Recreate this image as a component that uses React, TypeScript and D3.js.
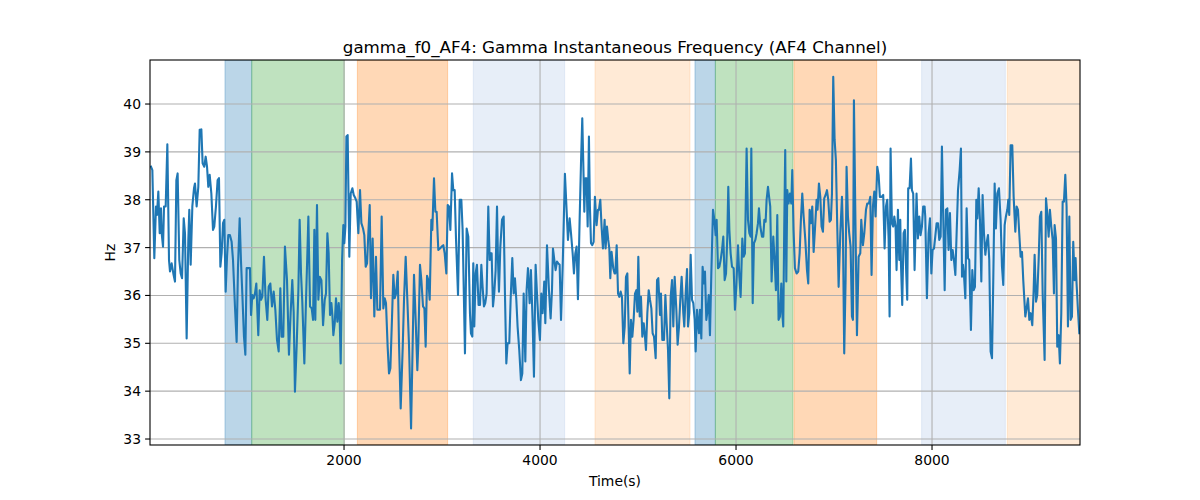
import React from "react";
import * as d3 from "d3";

const TITLE = "gamma_f0_AF4: Gamma Instantaneous Frequency (AF4 Channel)";
const X_LABEL = "Time(s)";
const Y_LABEL = "Hz";
const X_TICKS = [2000, 4000, 6000, 8000];
const Y_TICKS = [33, 34, 35, 36, 37, 38, 39, 40];
const X_DOMAIN = [20, 9510];
const Y_DOMAIN = [32.875, 40.92];

// shaded intervals: [start, end, colour, opacity]
const BAND_STARTS = [785, 1058, 2136, 3319, 4561, 5581, 5789, 6591, 7894, 8768];
const BAND_ENDS = [1058, 2003, 3057, 4251, 5530, 5789, 6581, 7435, 8748, 9520];
const BAND_COLORS = ["#1f77b4", "#2ca02c", "#ff7f0e", "#aec7e8", "#ffbb78", "#1f77b4", "#2ca02c", "#ff7f0e", "#aec7e8", "#ffbb78"];

const TIMES = [
  30, 44, 64, 81, 91, 105, 119, 132, 139, 153, 163, 180, 197, 214, 224, 241, 258, 275, 289, 302, 319, 333, 347, 364, 377, 394, 411, 421, 435, 452, 469, 479, 496, 513, 527, 544, 557, 574, 588, 602, 615, 629, 646, 663, 676, 693, 710, 724, 738, 751, 765, 778, 792, 806, 819, 836, 853, 867, 887, 904, 918, 935, 948, 962, 979, 993, 1006, 1023, 1040, 1051, 1064, 1078, 1091, 1105, 1125, 1139, 1153, 1166, 1183, 1200, 1217, 1231, 1248, 1265, 1282, 1299, 1316, 1333, 1350, 1363, 1380, 1397, 1418, 1438, 1455, 1472, 1486, 1499, 1517, 1534, 1547, 1561, 1574, 1595,
  1612, 1626, 1636, 1653, 1670, 1684, 1697, 1707, 1724, 1738, 1752, 1769, 1786, 1803, 1816, 1830, 1843, 1857, 1871, 1881, 1891, 1905, 1918, 1932, 1946, 1956, 1966, 1980, 1993, 2003, 2014, 2024, 2037, 2054, 2068, 2085, 2099, 2116, 2129, 2146, 2163, 2177, 2194, 2207, 2221, 2235, 2248, 2262, 2275, 2292, 2309, 2326, 2340, 2354, 2367, 2384, 2401, 2415, 2428, 2445, 2459, 2473, 2490, 2503, 2517, 2531, 2548, 2561, 2578, 2599, 2612, 2629, 2646, 2663, 2684, 2701, 2714, 2731, 2748, 2758, 2775, 2789, 2806, 2820, 2833, 2847, 2860, 2874, 2891, 2901, 2918, 2932, 2945, 2962, 2979, 2996, 3013, 3027, 3044, 3058, 3071, 3085, 3102, 3115, 3129, 3143, 3163,
  3180, 3197, 3210, 3234, 3251, 3268, 3285, 3295, 3309, 3319, 3329, 3343, 3356, 3373, 3387, 3401, 3414, 3428, 3441, 3455, 3472, 3486, 3496, 3506, 3520, 3533, 3547, 3561, 3571, 3581, 3595, 3612, 3629, 3642, 3656, 3669, 3686, 3700, 3717, 3731, 3744, 3758, 3771, 3788, 3805, 3819, 3833, 3850, 3863, 3877, 3894, 3907, 3924, 3938, 3955, 3969, 3982, 3999, 4013, 4026, 4043, 4054, 4071, 4091, 4108, 4122, 4132, 4146, 4159, 4173, 4186, 4200, 4214, 4231, 4241, 4254, 4268, 4285, 4302, 4316, 4333, 4346, 4360, 4373, 4387, 4404, 4418, 4431, 4441, 4452, 4462, 4475, 4486, 4499, 4509, 4520, 4533, 4547, 4560, 4577, 4591, 4601, 4615, 4628, 4642, 4659, 4669, 4683, 4696, 4707, 4717, 4730, 4747, 4761,
  4768, 4782, 4796, 4809, 4823, 4836, 4850, 4864, 4877, 4891, 4904, 4915, 4928, 4942, 4955, 4969, 4983, 4993, 5003, 5017, 5030, 5044, 5058, 5068, 5081, 5095, 5109, 5122, 5136, 5149, 5163, 5180, 5194, 5207, 5224, 5234, 5248, 5265, 5279, 5292, 5306, 5319, 5333, 5347, 5360, 5374, 5391, 5404, 5418, 5432, 5445, 5462, 5472, 5486, 5500, 5510, 5523, 5537, 5551, 5564, 5578, 5588, 5602, 5612, 5622, 5632, 5646, 5659, 5673, 5683, 5697, 5710, 5721, 5734, 5748, 5765, 5779, 5792, 5802, 5816, 5830, 5843, 5857, 5870, 5884, 5898, 5911, 5921, 5932, 5945, 5959, 5976, 5989, 6003, 6020, 6034, 6047, 6064, 6078, 6091, 6102, 6108, 6122, 6136, 6149, 6156, 6170, 6183, 6197, 6210, 6224, 6234, 6248, 6265, 6278, 6289, 6302, 6312, 6326, 6343,
  6349, 6363, 6380, 6394, 6407, 6421, 6434, 6448, 6462, 6472, 6482, 6492, 6502, 6513, 6523, 6536, 6550, 6564, 6574, 6587, 6601, 6618, 6635, 6649, 6662, 6676, 6690, 6707, 6724, 6737, 6751, 6764, 6778, 6792, 6805, 6822, 6832, 6846, 6860, 6873, 6887, 6900, 6914, 6928, 6941, 6955, 6968, 6979, 6992, 7006, 7019, 7033, 7047, 7064, 7081, 7091, 7104, 7118, 7128, 7142, 7155, 7169, 7183, 7193, 7203, 7220, 7234, 7251, 7268, 7278, 7295, 7309, 7326, 7339, 7356, 7370, 7383, 7397, 7411, 7424, 7441, 7455, 7468, 7485, 7502, 7516, 7530, 7543, 7557, 7567, 7577, 7591, 7604, 7615, 7628, 7638, 7652, 7666, 7676, 7683, 7696, 7710, 7723, 7737, 7747, 7757, 7771, 7785, 7795, 7808, 7822, 7842, 7856, 7870, 7883, 7897, 7910, 7924,
  7931, 7948, 7965, 7979, 7993, 8006, 8020, 8033, 8047, 8061, 8074, 8088, 8101, 8115, 8129, 8142, 8156, 8169, 8183, 8197, 8210, 8224, 8238, 8251, 8265, 8282, 8295, 8306, 8316, 8326, 8340, 8353, 8367, 8380, 8397, 8411, 8425, 8438, 8452, 8462, 8476, 8489, 8503, 8516, 8530, 8544, 8557, 8571, 8584, 8598, 8612, 8625, 8639, 8652, 8666, 8683, 8700, 8714, 8727, 8741, 8754, 8768, 8778, 8788, 8802, 8819, 8833, 8850, 8863, 8877, 8890, 8904, 8918, 8931, 8952, 8965, 8979, 8993, 9006, 9023, 9037, 9047, 9061, 9074, 9088, 9101, 9115, 9129, 9149, 9163, 9176, 9190, 9203, 9217, 9231, 9244, 9251, 9265, 9278, 9292, 9305, 9319, 9333, 9346, 9360, 9373, 9387, 9401, 9414, 9428, 9441, 9455, 9465, 9475, 9489, 9503,
];

const VALUES = [
  38.69, 38.62, 36.78, 37.86, 37.68, 38.17, 37.30, 37.82, 37.30, 37.02, 37.86, 37.86, 39.16, 36.74, 36.50, 36.67, 36.46, 36.29, 38.41, 38.55, 36.74, 36.46, 36.36, 37.61, 37.30, 35.10, 37.16, 37.79, 36.64, 37.86, 38.24, 38.34, 37.86, 38.27, 39.46, 39.47, 38.76, 38.69, 38.90, 38.69, 38.27, 38.52, 38.13, 37.37, 37.44, 37.86, 38.41, 38.45, 36.60, 36.88, 37.51, 37.58, 36.08, 36.81, 37.26, 37.26, 37.12, 36.74, 35.77, 35.03, 36.60, 37.61, 36.74, 36.04, 35.14, 34.76, 36.57, 36.57, 36.57, 35.59, 36.01, 35.94, 36.04, 36.25, 35.17, 36.11, 35.91, 35.97, 36.81, 35.91, 35.49, 36.18, 36.25, 35.77, 36.08, 35.70, 35.07, 34.83, 36.15, 35.14, 35.14, 37.02, 36.32, 34.76, 35.63, 36.32, 35.66, 33.99, 34.97, 36.11, 37.58, 36.46, 35.87, 34.58,
  35.91, 36.88, 37.65, 35.77, 35.73, 35.49, 37.37, 35.49, 37.89, 35.91, 36.39, 36.32, 35.38, 35.91, 36.04, 37.30, 36.88, 35.59, 35.84, 35.59, 35.17, 35.42, 35.94, 35.45, 35.84, 35.49, 34.58, 36.74, 37.47, 37.09, 37.44, 39.32, 39.35, 36.81, 38.13, 38.24, 38.10, 38.03, 37.96, 37.30, 38.20, 37.51, 37.40, 37.26, 36.60, 36.67, 37.30, 37.89, 35.94, 37.19, 35.56, 36.81, 35.70, 35.70, 35.70, 37.65, 35.73, 35.94, 35.84, 34.93, 34.37, 34.48, 35.56, 36.43, 35.94, 36.04, 36.50, 35.00, 33.64, 34.93, 35.91, 36.81, 35.91, 34.97, 33.22, 35.07, 36.43, 35.49, 34.44, 35.00, 36.64, 36.32, 35.77, 35.73, 34.93, 36.41, 36.32, 35.91, 37.58, 37.37, 38.45, 37.75, 37.75, 36.95, 36.98, 37.02, 37.05, 36.88, 36.46, 37.89, 37.86, 37.37, 38.55, 38.20, 38.20, 37.16, 36.01,
  38.00, 38.00, 37.37, 34.79, 37.40, 37.23, 35.63, 35.21, 35.14, 36.67, 35.35, 36.46, 36.64, 35.80, 35.80, 36.64, 36.18, 35.77, 35.84, 36.04, 37.86, 36.74, 36.88, 36.88, 35.77, 36.04, 36.53, 37.86, 36.74, 36.08, 37.02, 37.58, 37.65, 36.04, 34.58, 35.00, 35.00, 35.91, 36.78, 36.04, 36.36, 35.91, 35.35, 34.86, 34.23, 34.37, 36.04, 34.62, 36.11, 36.57, 35.84, 36.53, 35.49, 34.30, 36.64, 36.04, 35.49, 35.07, 36.04, 35.63, 36.29, 35.42, 37.05, 36.11, 35.52, 36.11, 36.98, 36.74, 36.53, 36.71, 36.67, 36.64, 35.49, 36.60, 37.44, 38.54, 37.92, 37.16, 37.61, 37.30, 36.88, 36.46, 36.88, 37.02, 35.92, 37.58, 38.76, 39.70, 38.80, 37.75, 38.45, 38.45, 37.44, 39.32, 37.86, 37.09, 37.05, 37.12, 38.06, 37.47, 37.79, 37.79, 38.00, 37.44, 36.98, 37.58, 36.98, 37.44, 37.16, 36.98, 36.36, 36.91, 36.57, 36.46,
  36.46, 37.05, 36.04, 35.97, 36.08, 35.97, 35.00, 35.35, 36.39, 36.46, 35.35, 34.37, 35.49, 35.14, 35.49, 36.04, 36.11, 35.66, 36.81, 35.56, 35.97, 35.14, 35.42, 35.21, 34.86, 35.63, 36.11, 35.91, 35.73, 35.21, 35.14, 34.69, 36.32, 36.36, 35.59, 36.04, 35.07, 35.07, 36.01, 35.42, 34.86, 33.85, 35.97, 36.32, 35.35, 36.39, 35.70, 34.97, 35.35, 35.94, 36.39, 35.63, 35.35, 36.04, 36.55, 35.35, 35.63, 36.85, 35.91, 35.84, 35.49, 34.83, 35.70, 35.42, 35.21, 35.70, 35.10, 36.60, 36.25, 36.50, 35.49, 35.70, 36.01, 35.17, 36.46, 37.79, 37.58, 37.26, 37.58, 36.57, 36.60, 36.74, 36.95, 37.23, 36.32, 36.46, 37.23, 38.27, 37.37, 36.88, 36.60, 36.57, 35.70, 36.18, 37.05, 36.39, 35.97, 37.19, 36.81, 36.88, 38.27, 39.07, 37.58, 37.30, 37.23, 39.07, 35.84, 37.09, 37.16, 37.30, 37.51, 37.82, 37.44, 37.23, 37.23, 37.58, 37.54, 38.00, 38.27, 37.96,
  37.86, 36.29, 37.23, 36.74, 36.11, 37.68, 35.49, 35.56, 36.25, 35.63, 35.35, 37.44, 39.04, 36.29, 38.20, 37.92, 38.13, 37.92, 38.62, 37.37, 36.57, 36.46, 36.50, 36.88, 37.58, 38.13, 37.65, 37.16, 36.53, 36.25, 37.79, 37.51, 37.86, 36.91, 37.37, 38.00, 37.79, 38.34, 38.06, 37.44, 37.33, 38.03, 38.10, 38.20, 38.00, 37.54, 37.58, 38.13, 40.57, 39.25, 38.83, 37.44, 36.18, 37.30, 38.06, 37.30, 34.79, 36.32, 38.69, 37.65, 37.30, 37.02, 35.56, 35.49, 40.08, 37.30, 35.17, 36.81, 36.88, 37.58, 37.05, 37.30, 37.79, 37.92, 37.92, 38.06, 36.43, 37.86, 38.17, 37.65, 38.69, 38.52, 38.06, 38.06, 38.10, 36.98, 37.86, 38.00, 37.19, 35.56, 39.07, 37.51, 37.44, 37.65, 37.44, 36.53, 37.79, 36.74, 37.58, 36.67, 35.80, 37.30, 37.37, 36.46, 35.91, 38.24, 38.24, 38.86, 38.20, 38.13, 36.53, 38.13, 37.19, 37.65, 37.26, 37.44, 37.86, 37.86,
  37.65, 35.94, 37.30, 37.61, 36.46, 36.95, 36.98, 37.23, 37.51, 37.51, 37.16, 37.23, 39.11, 37.58, 36.11, 37.79, 37.82, 36.95, 37.72, 36.74, 36.95, 36.74, 36.43, 37.30, 38.20, 38.62, 39.07, 36.39, 36.64, 36.43, 35.94, 37.82, 36.78, 36.74, 35.28, 36.53, 36.11, 36.18, 38.00, 37.61, 38.24, 37.58, 36.29, 38.10, 37.30, 36.85, 37.09, 37.26, 36.74, 34.83, 34.69, 36.32, 38.34, 37.40, 38.13, 38.24, 37.58, 36.60, 36.22, 37.47, 37.65, 37.79, 38.00, 37.68, 39.14, 39.14, 38.06, 37.33, 37.86, 37.79, 37.30, 36.81, 36.91, 36.32, 35.56, 35.73, 35.94, 35.49, 35.63, 35.38, 36.11, 36.85, 35.87, 36.01, 36.74, 37.65, 37.75, 36.04, 34.65, 38.03, 37.72, 37.23, 37.79, 37.44, 37.16, 36.04, 37.47, 37.19, 34.93, 35.17, 34.58, 35.63, 37.96, 37.96, 38.52, 37.86, 35.35, 37.65, 35.49, 35.56, 37.12, 36.32, 36.78, 36.25, 35.70, 35.21,
];

const W = 1200;
const H = 500;
const M = { left: 150, right: 1080, top: 60, bottom: 445 };
const FONT = "DejaVu Sans, sans-serif";

export default function App() {
  const x = d3.scaleLinear().domain(X_DOMAIN).range([M.left, M.right]);
  const y = d3.scaleLinear().domain(Y_DOMAIN).range([M.bottom, M.top]);
  const pts = TIMES.map((t, i) => [t, VALUES[i]] as [number, number]);
  const line = d3
    .line<[number, number]>()
    .x((d) => x(d[0]))
    .y((d) => y(d[1]));

  return (
    <svg
      width={W}
      height={H}
      style={{ position: "absolute", left: 0, top: 0, background: "#fff" }}
      fontFamily={FONT}
    >
      <defs>
        <clipPath id="plotclip">
          <rect x={M.left} y={M.top} width={M.right - M.left} height={M.bottom - M.top} />
        </clipPath>
      </defs>
      <rect x={0} y={0} width={W} height={H} fill="#fff" />
      <g clipPath="url(#plotclip)">
        {BAND_STARTS.map((s, i) => (
          <rect
            key={"b" + i}
            x={x(s)}
            y={M.top}
            width={x(BAND_ENDS[i]) - x(s)}
            height={M.bottom - M.top}
            fill={BAND_COLORS[i]}
            fillOpacity={0.3}
            stroke={BAND_COLORS[i]}
            strokeOpacity={0.3}
            strokeWidth={1}
          />
        ))}
        {X_TICKS.map((t) => (
          <line key={"gx" + t} x1={x(t)} x2={x(t)} y1={M.top} y2={M.bottom} stroke="#b0b0b0" strokeWidth={1.1} />
        ))}
        {Y_TICKS.map((t) => (
          <line key={"gy" + t} x1={M.left} x2={M.right} y1={y(t)} y2={y(t)} stroke="#b0b0b0" strokeWidth={1.1} />
        ))}
        <path d={line(pts) || ""} fill="none" stroke="#1f77b4" strokeWidth={2.1} strokeLinejoin="round" strokeLinecap="square" />
      </g>
      <rect
        x={M.left}
        y={M.top}
        width={M.right - M.left}
        height={M.bottom - M.top}
        fill="none"
        stroke="#000"
        strokeWidth={1.1}
      />
      {X_TICKS.map((t) => (
        <g key={"xt" + t}>
          <line x1={x(t)} x2={x(t)} y1={M.bottom} y2={M.bottom + 4.9} stroke="#000" strokeWidth={1.1} />
          <text x={x(t)} y={M.bottom + 20} textAnchor="middle" fontSize={13.9} fill="#000">
            {t}
          </text>
        </g>
      ))}
      {Y_TICKS.map((t) => (
        <g key={"yt" + t}>
          <line x1={M.left - 4.9} x2={M.left} y1={y(t)} y2={y(t)} stroke="#000" strokeWidth={1.1} />
          <text x={M.left - 9} y={y(t) + 5} textAnchor="end" fontSize={13.9} fill="#000">
            {t}
          </text>
        </g>
      ))}
      <text x={(M.left + M.right) / 2} y={53} textAnchor="middle" fontSize={16.7} fill="#000">
        {TITLE}
      </text>
      <text x={(M.left + M.right) / 2} y={486} textAnchor="middle" fontSize={13.9} fill="#000">
        {X_LABEL}
      </text>
      <text
        transform={`translate(115, ${(M.top + M.bottom) / 2}) rotate(-90)`}
        textAnchor="middle"
        fontSize={13.9}
        fill="#000"
      >
        {Y_LABEL}
      </text>
    </svg>
  );
}
